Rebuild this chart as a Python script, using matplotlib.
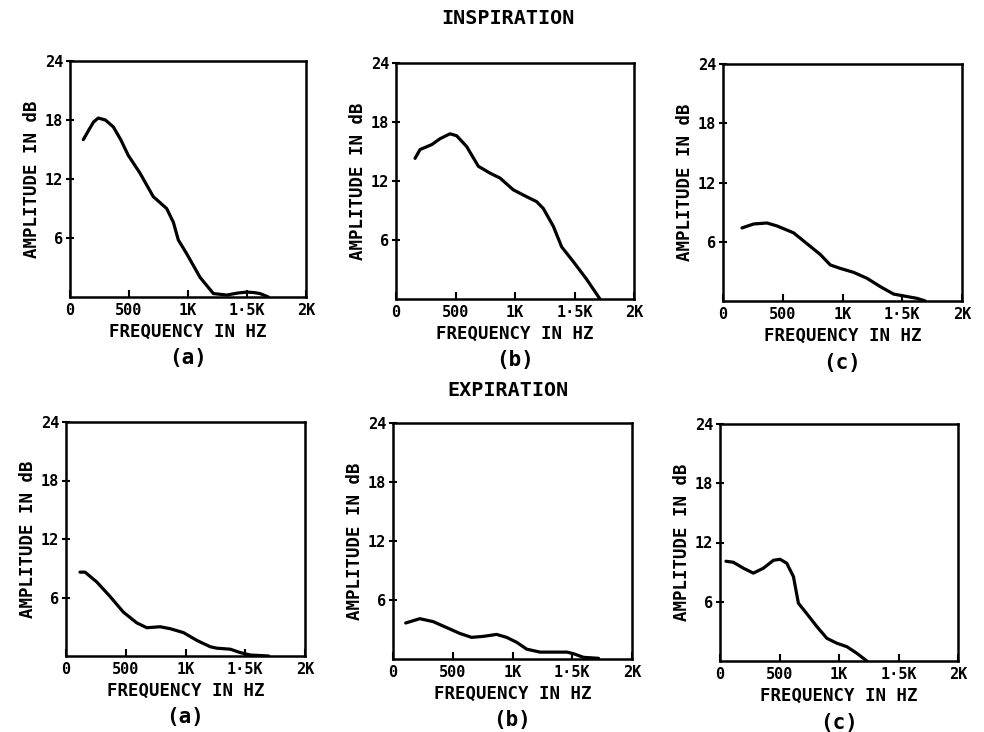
import matplotlib
matplotlib.use('Agg')
import matplotlib.pyplot as plt

# frequency (Hz) / amplitude (dB)
insp_a_f = [113, 160, 200, 240, 300, 367, 430, 494, 593, 706, 819, 876, 918, 989,
            1102, 1215, 1328, 1420, 1497, 1560, 1610, 1681]
insp_a_db = [16.0, 17.0, 17.8, 18.2, 18.0, 17.3, 16.0, 14.4, 12.6, 10.2, 9.0, 7.6,
             5.8, 4.4, 2.0, 0.35, 0.2, 0.4, 0.5, 0.45, 0.35, 0.0]

insp_b_f = [160, 202, 300, 370, 454, 510, 594, 692, 790, 874, 986, 1098, 1182,
            1238, 1322, 1392, 1490, 1602, 1714]
insp_b_db = [14.3, 15.2, 15.7, 16.3, 16.8, 16.6, 15.5, 13.5, 12.8, 12.3, 11.1, 10.4,
             9.9, 9.2, 7.4, 5.3, 3.8, 2.0, 0.0]

insp_c_f = [159, 257, 368, 452, 591, 703, 815, 898, 982, 1093, 1205, 1317, 1428,
            1540, 1623, 1693]
insp_c_db = [7.4, 7.8, 7.9, 7.6, 6.9, 5.8, 4.7, 3.65, 3.3, 2.9, 2.3, 1.45, 0.7,
             0.45, 0.27, 0.0]

exp_a_f = [117, 159, 257, 369, 480, 592, 676, 788, 872, 983, 1095, 1207, 1263,
           1374, 1458, 1542, 1696]
exp_a_db = [8.6, 8.6, 7.6, 6.1, 4.5, 3.4, 2.9, 3.0, 2.8, 2.4, 1.6, 0.95, 0.8, 0.7,
            0.35, 0.1, 0.0]

exp_b_f = [106, 224, 336, 448, 559, 657, 755, 867, 951, 1035, 1119, 1231, 1343,
           1455, 1510, 1594, 1720]
exp_b_db = [3.66, 4.1, 3.8, 3.2, 2.6, 2.2, 2.3, 2.5, 2.2, 1.7, 1.0, 0.7, 0.7, 0.7,
            0.54, 0.17, 0.07]

exp_c_f = [50, 112, 196, 280, 365, 449, 505, 561, 617, 659, 729, 813, 898, 982,
           1066, 1150, 1234]
exp_c_db = [10.1, 10.0, 9.4, 8.9, 9.4, 10.2, 10.3, 9.9, 8.55, 5.85, 4.8, 3.5, 2.3,
            1.8, 1.45, 0.78, 0.0]

x_ticks = [0, 500, 1000, 1500, 2000]
x_tick_labels = ['0', '500', '1K', '1·5K', '2K']
y_ticks = [6, 12, 18, 24]
y_tick_labels = ['6', '12', '18', '24']
panel_labels = ['(a)', '(b)', '(c)', '(a)', '(b)', '(c)']

series = [(insp_a_f, insp_a_db), (insp_b_f, insp_b_db), (insp_c_f, insp_c_db),
          (exp_a_f, exp_a_db), (exp_b_f, exp_b_db), (exp_c_f, exp_c_db)]

# axes boxes in pixels: left, top, right, bottom
W, H = 984, 732
boxes = [(70, 61, 306, 297), (396, 63, 634, 299), (723, 64, 962, 301),
         (66, 422, 305, 656), (393, 423, 632, 659), (720, 424, 958, 661)]

plt.rcParams['font.family'] = 'DejaVu Sans Mono'
plt.rcParams['font.weight'] = 'bold'

fig = plt.figure(figsize=(W / 100, H / 100), dpi=100)

for (f, db), (l, t, r, b), lab in zip(series, boxes, panel_labels):
    ax = fig.add_axes([l / W, 1 - b / H, (r - l) / W, (b - t) / H])
    ax.plot(f, db, color='black', lw=2.3, solid_joinstyle='round',
            solid_capstyle='round')
    ax.set_xlim(0, 2000)
    ax.set_ylim(0, 24)
    ax.set_xticks(x_ticks)
    ax.set_xticklabels(x_tick_labels)
    ax.set_yticks(y_ticks)
    ax.set_yticklabels(y_tick_labels)
    ax.tick_params(axis='x', direction='in', length=5, width=1.5, labelsize=11, pad=4)
    ax.tick_params(axis='y', direction='inout', length=6, width=1.5, labelsize=11, pad=2)
    for s in ax.spines.values():
        s.set_linewidth(1.8)
    ax.set_xlabel('FREQUENCY IN HZ', fontsize=12.5, fontweight='bold', labelpad=4)
    ax.set_ylabel('AMPLITUDE IN dB', fontsize=12.5, fontweight='bold', labelpad=3)
    ax.text(0.5, -0.26, lab, transform=ax.transAxes, ha='center', va='center',
            fontsize=15, fontweight='bold')

fig.text(508 / W, 1 - 18 / H, 'INSPIRATION', ha='center', va='center',
         fontsize=14.5, fontweight='bold')
fig.text(508 / W, 1 - 390 / H, 'EXPIRATION', ha='center', va='center',
         fontsize=14.5, fontweight='bold')

fig.savefig('out.png', dpi=100, facecolor='white')
